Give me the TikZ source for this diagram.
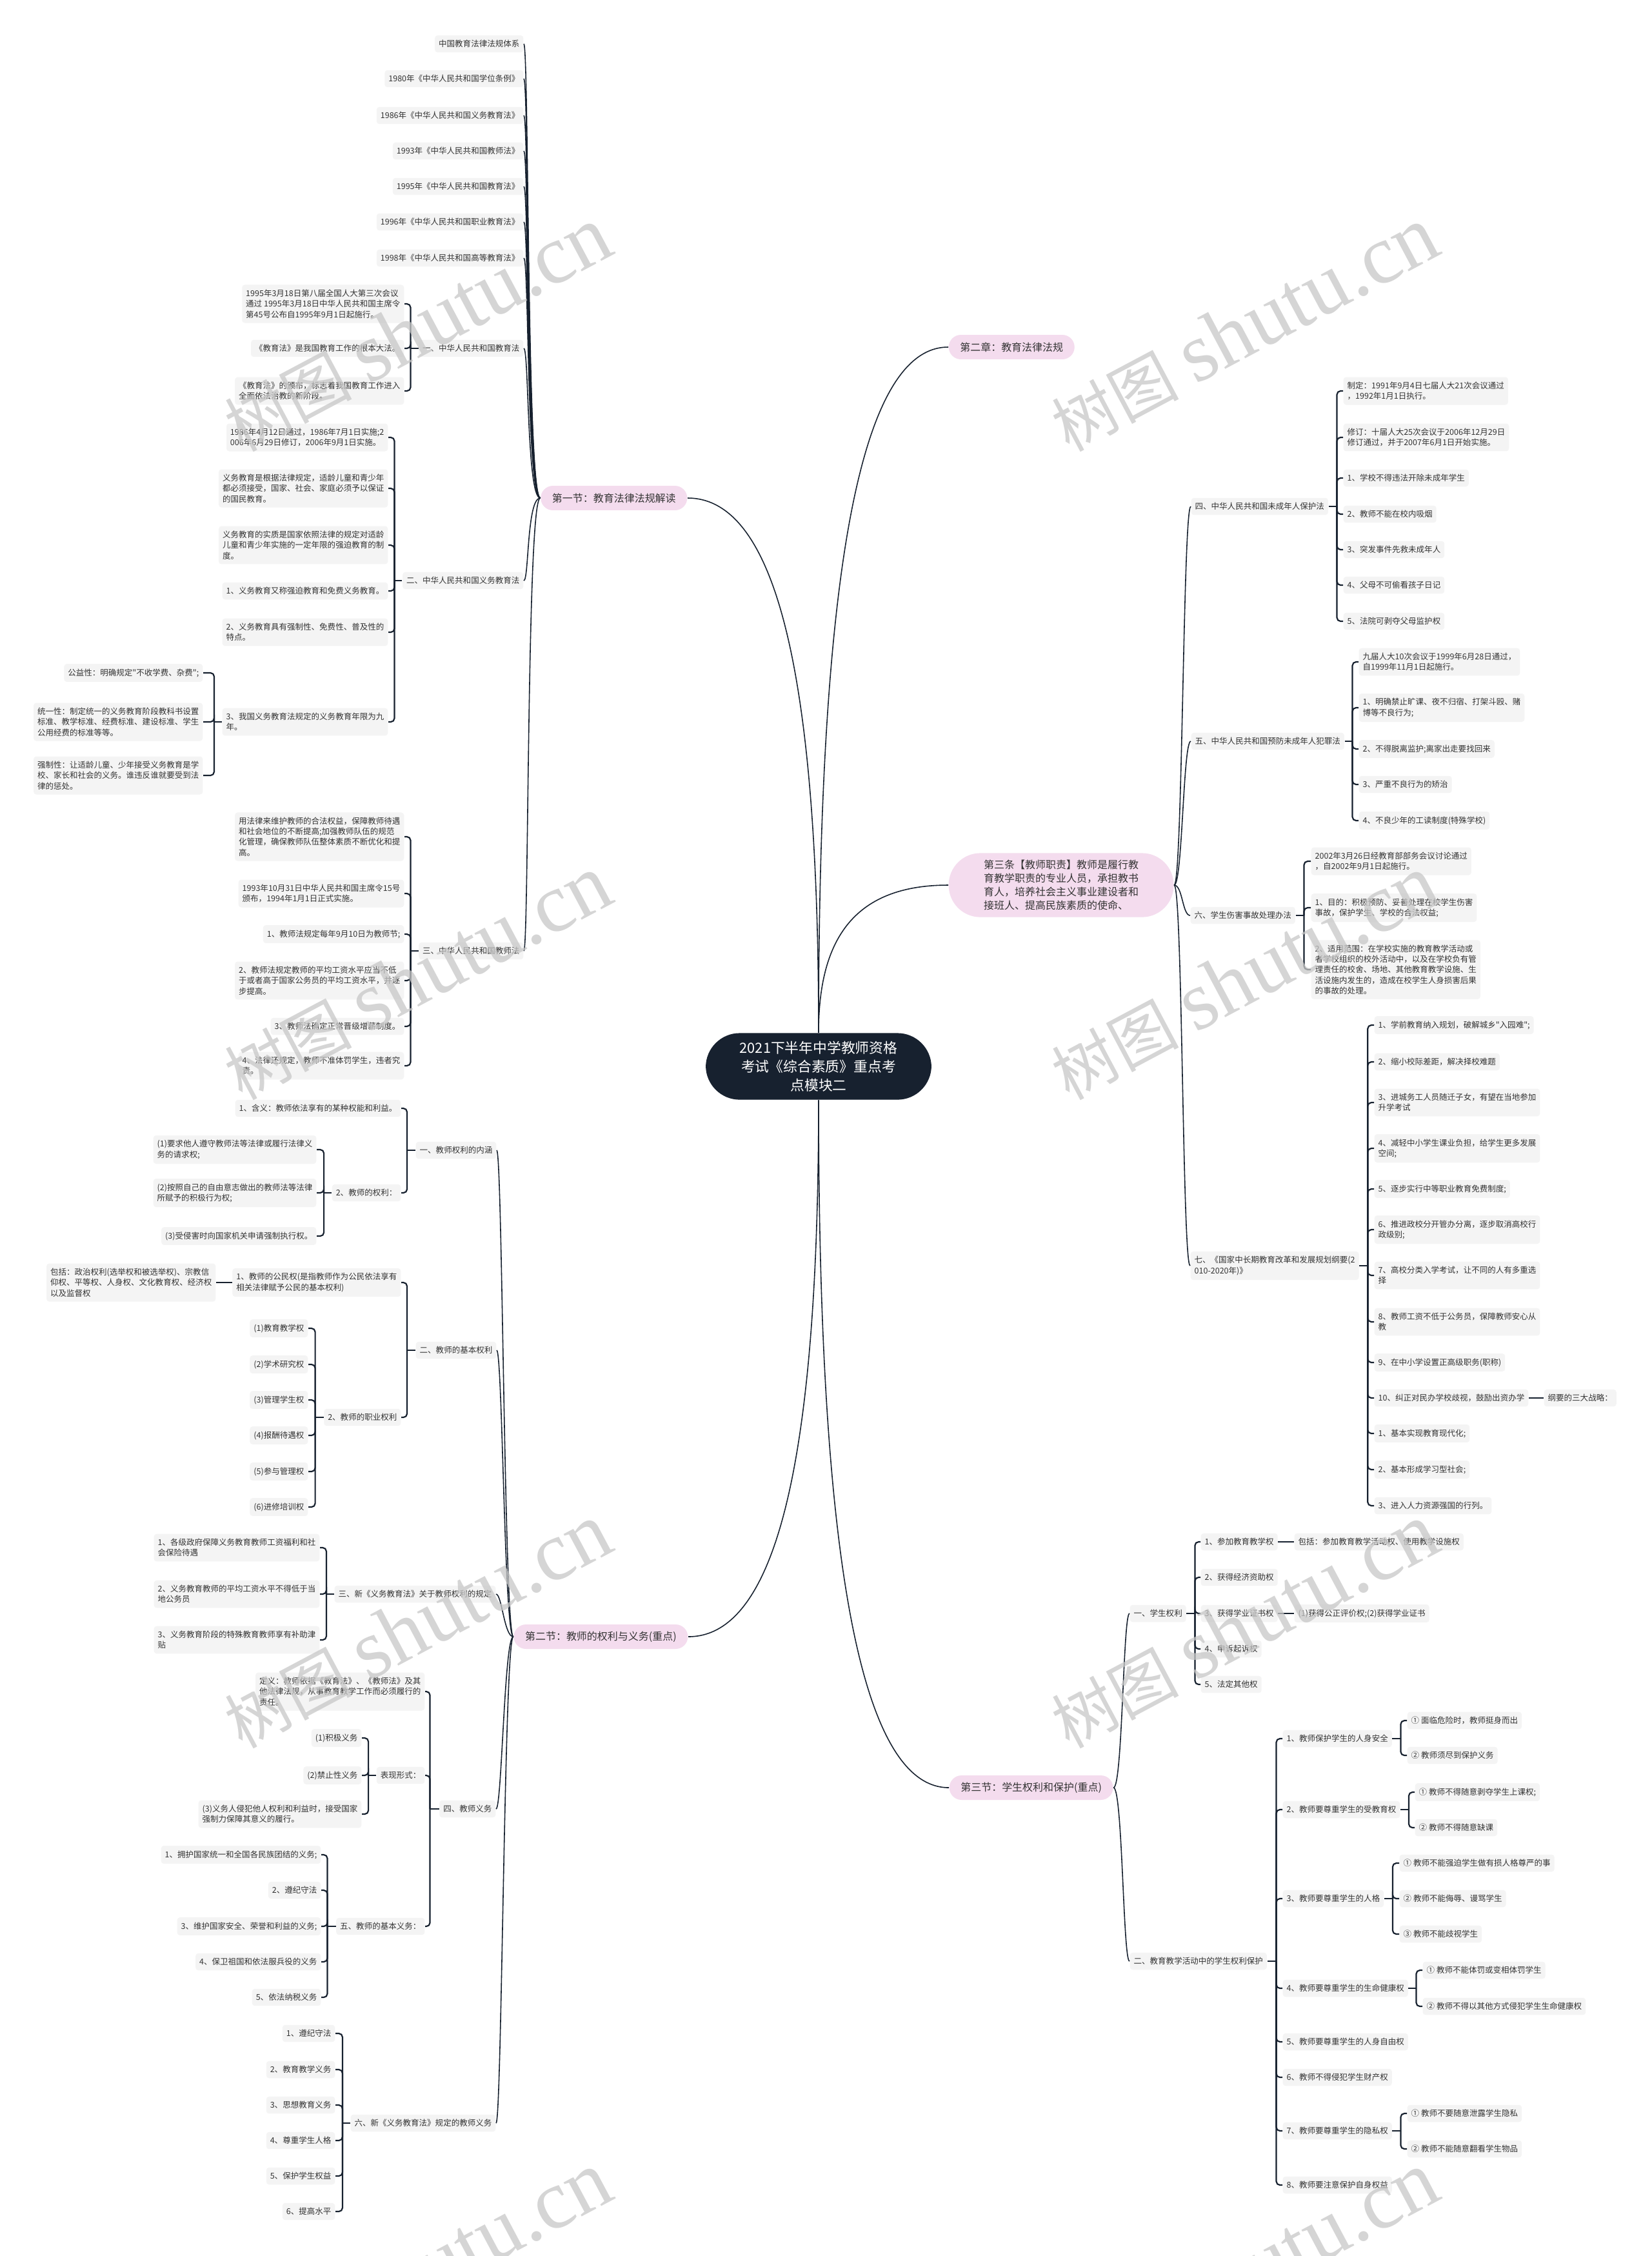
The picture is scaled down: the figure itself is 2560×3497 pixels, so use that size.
\documentclass[tikz,border=0pt]{standalone}
\usepackage{fontspec}
\newfontfamily\cjk{Noto Sans CJK SC}
\newfontfamily\wmlatin{Liberation Serif}

\definecolor{leafgray}{HTML}{F4F4F4}
\definecolor{inkgray}{HTML}{333333}
\definecolor{sectpink}{HTML}{F4DCEE}
\definecolor{navy}{HTML}{17212F}

\begin{document}
\begin{tikzpicture}[x=0.1mm, y=-0.1mm,
    leaf/.style={fill=leafgray, text=inkgray, rounded corners=1.2pt, inner xsep=1.7pt, inner ysep=2.1pt, align=left, font=\cjk\fontsize{3.56}{4.63}\selectfont},
    sect/.style={fill=sectpink, text=inkgray, rounded corners=5.4pt, inner xsep=5pt, inner ysep=0pt, minimum height=10.8pt, font=\cjk\fontsize{4.55}{6}\selectfont},
    duty/.style={fill=sectpink, text=inkgray, rounded corners=14pt, inner xsep=15.5pt, inner ysep=3pt, align=left, font=\cjk\fontsize{4.55}{6}\selectfont},
    topic/.style={fill=navy, text=white, rounded corners=15pt, inner xsep=15pt, inner ysep=3.6pt, align=center, font=\cjk\fontsize{6.2}{8.2}\selectfont},
    wire/.style={draw=navy, line width=0.45pt},
    elbow/.style={draw=navy, line width=0.62pt, rounded corners=1.6pt}]

        % Page
        \useasboundingbox (0,0) rectangle (2560,3497);
        \fill[white] (0,0) rectangle (2560,3497);

        % Draw centre topic
        \node[topic] (root) at (1269,1653) {2021下半年中学教师资格\\考试《综合素质》重点考\\点模块二};

        % Draw main branches
        \node[sect, anchor=east] (sec1) at (1066,772) {第一节：教育法律法规解读};
        \node[sect, anchor=west] (chap2) at (1470,538) {第二章：教育法律法规};
        \node[duty, anchor=west] (art3) at (1470,1372) {第三条【教师职责】教师是履行教\\育教学职责的专业人员，承担教书\\育人，培养社会主义事业建设者和\\接班人、提高民族素质的使命、};
        \node[sect, anchor=east] (sec2) at (1067,2537) {第二节：教师的权利与义务(重点)};
        \node[sect, anchor=west] (sec3) at (1471,2771) {第三节：学生权利和保护(重点)};

        \draw[wire] (root.north) .. controls +(0,-500) and +(150,0) .. (sec1.east);
        \draw[wire] (root.north) .. controls +(0,-640) and +(-150,0) .. (chap2.west);
        \draw[wire] (root.north) .. controls +(0,-140) and +(-150,0) .. (art3.west);
        \draw[wire] (root.south) .. controls +(0,500) and +(150,0) .. (sec2.east);
        \draw[wire] (root.south) .. controls +(0,640) and +(-150,0) .. (sec3.west);

        % Section one: laws
        \node[leaf, anchor=east] (sys) at (812,68) {中国教育法律法规体系};
        \node[leaf, anchor=east] (law80) at (812,122) {1980年《中华人民共和国学位条例》};
        \node[leaf, anchor=east] (law86) at (812,179) {1986年《中华人民共和国义务教育法》};
        \node[leaf, anchor=east] (law93) at (812,234) {1993年《中华人民共和国教师法》};
        \node[leaf, anchor=east] (law95) at (812,289) {1995年《中华人民共和国教育法》};
        \node[leaf, anchor=east] (law96) at (812,344) {1996年《中华人民共和国职业教育法》};
        \node[leaf, anchor=east] (law98) at (812,400) {1998年《中华人民共和国高等教育法》};
        \node[leaf, anchor=east] (edu) at (812,540) {一、中华人民共和国教育法};
        \node[leaf, anchor=east] (oblig) at (812,900) {二、中华人民共和国义务教育法};
        \node[leaf, anchor=east] (tlaw) at (812,1474) {三、中华人民共和国教师法};
        \foreach \c in {sys,law80,law86,law93,law95,law96,law98,edu,oblig,tlaw}
            \draw[wire] (sec1.west) .. controls +(-21,0) and +(8,0) .. (\c.east);

        % Education law
        \node[leaf, anchor=east] (edu1) at (627,471) {1995年3月18日第八届全国人大第三次会议\\通过 1995年3月18日中华人民共和国主席令\\第45号公布自1995年9月1日起施行。};
        \node[leaf, anchor=east] (edu2) at (627,540) {《教育法》是我国教育工作的根本大法。};
        \node[leaf, anchor=east] (edu3) at (627,606) {《教育法》的颁布，标志着我国教育工作进入\\全面依法治教的新阶段。};
        \draw[elbow] (edu.west) -- ++(-12,0) coordinate (jedu);
        \foreach \c in {edu1,edu2,edu3} \draw[elbow] (jedu) |- (\c.east);

        % Compulsory education law
        \node[leaf, anchor=east] (obl1) at (602,678) {1986年4月12日通过，1986年7月1日实施;2\\006年6月29日修订，2006年9月1日实施。};
        \node[leaf, anchor=east] (obl2) at (602,757) {义务教育是根据法律规定，适龄儿童和青少年\\都必须接受，国家、社会、家庭必须予以保证\\的国民教育。};
        \node[leaf, anchor=east] (obl3) at (602,845) {义务教育的实质是国家依照法律的规定对适龄\\儿童和青少年实施的一定年限的强迫教育的制\\度。};
        \node[leaf, anchor=east] (obl4) at (602,916) {1、义务教育又称强迫教育和免费义务教育。};
        \node[leaf, anchor=east] (obl5) at (602,980) {2、义务教育具有强制性、免费性、普及性的\\特点。};
        \node[leaf, anchor=east] (obl6) at (602,1119) {3、我国义务教育法规定的义务教育年限为九\\年。};
        \draw[elbow] (oblig.west) -- ++(-12,0) coordinate (jobl);
        \foreach \c in {obl1,obl2,obl3,obl4,obl5,obl6} \draw[elbow] (jobl) |- (\c.east);

        \node[leaf, anchor=east] (obl6a) at (315,1043) {公益性：明确规定"不收学费、杂费";};
        \node[leaf, anchor=east] (obl6b) at (315,1119) {统一性：制定统一的义务教育阶段教科书设置\\标准、教学标准、经费标准、建设标准、学生\\公用经费的标准等等。};
        \node[leaf, anchor=east] (obl6c) at (315,1202) {强制性：让适龄儿童、少年接受义务教育是学\\校、家长和社会的义务。谁违反谁就要受到法\\律的惩处。};
        \draw[elbow] (obl6.west) -- ++(-12,0) coordinate (jnine);
        \foreach \c in {obl6a,obl6b,obl6c} \draw[elbow] (jnine) |- (\c.east);

        % Teachers law
        \node[leaf, anchor=east] (tl1) at (627,1297) {用法律来维护教师的合法权益，保障教师待遇\\和社会地位的不断提高;加强教师队伍的规范\\化管理，确保教师队伍整体素质不断优化和提\\高。};
        \node[leaf, anchor=east] (tl2) at (627,1385) {1993年10月31日中华人民共和国主席令15号\\颁布，1994年1月1日正式实施。};
        \node[leaf, anchor=east] (tl3) at (627,1448) {1、教师法规定每年9月10日为教师节;};
        \node[leaf, anchor=east] (tl4) at (627,1520) {2、教师法规定教师的平均工资水平应当不低\\于或者高于国家公务员的平均工资水平，并逐\\步提高。};
        \node[leaf, anchor=east] (tl5) at (627,1591) {3、教师法确定正常晋级增薪制度。};
        \node[leaf, anchor=east] (tl6) at (627,1652) {4、法律还规定，教师不准体罚学生，违者究\\责。};
        \draw[elbow] (tlaw.west) -- ++(-12,0) coordinate (jtl);
        \foreach \c in {tl1,tl2,tl3,tl4,tl5,tl6} \draw[elbow] (jtl) |- (\c.east);

        % Section two: rights and duties of teachers
        \node[leaf, anchor=east] (rt1) at (770,1783) {一、教师权利的内涵};
        \node[leaf, anchor=east] (rt2) at (770,2093) {二、教师的基本权利};
        \node[leaf, anchor=east] (rt3) at (769,2471) {三、新《义务教育法》关于教师权利的规定};
        \node[leaf, anchor=east] (dt4) at (769,2804) {四、教师义务};
        \node[leaf, anchor=east] (dt6) at (769,3291) {六、新《义务教育法》规定的教师义务};
        \foreach \c in {rt1,rt2,rt3,dt4,dt6}
            \draw[wire] (sec2.west) .. controls +(-14,0) and +(9,0) .. (\c.east);

        % Meaning of rights
        \node[leaf, anchor=east] (rt1a) at (622,1718) {1、含义：教师依法享有的某种权能和利益。};
        \node[leaf, anchor=east] (rt1b) at (622,1849) {2、教师的权利：};
        \draw[elbow] (rt1.west) -- ++(-13,0) coordinate (jrt1);
        \foreach \c in {rt1a,rt1b} \draw[elbow] (jrt1) |- (\c.east);
        \node[leaf, anchor=east] (rt1b1) at (491,1782) {(1)要求他人遵守教师法等法律或履行法律义\\务的请求权;};
        \node[leaf, anchor=east] (rt1b2) at (491,1849) {(2)按照自己的自由意志做出的教师法等法律\\所赋予的积极行为权;};
        \node[leaf, anchor=east] (rt1b3) at (491,1916) {(3)受侵害时向国家机关申请强制执行权。};
        \draw[elbow] (rt1b.west) -- ++(-12,0) coordinate (jrt1b);
        \foreach \c in {rt1b1,rt1b2,rt1b3} \draw[elbow] (jrt1b) |- (\c.east);

        % Basic rights
        \node[leaf, anchor=east] (rt2a) at (622,1988) {1、教师的公民权(是指教师作为公民依法享有\\相关法律赋予公民的基本权利)};
        \node[leaf, anchor=east] (rt2b) at (622,2197) {2、教师的职业权利};
        \draw[elbow] (rt2.west) -- ++(-13,0) coordinate (jrt2);
        \foreach \c in {rt2a,rt2b} \draw[elbow] (jrt2) |- (\c.east);
        \node[leaf, anchor=east] (civil) at (335,1988) {包括：政治权利(选举权和被选举权)、宗教信\\仰权、平等权、人身权、文化教育权、经济权\\以及监督权};
        \draw[elbow] (rt2a.west) -- (civil.east);
        \node[leaf, anchor=east] (job1) at (478,2059) {(1)教育教学权};
        \node[leaf, anchor=east] (job2) at (478,2115) {(2)学术研究权};
        \node[leaf, anchor=east] (job3) at (478,2170) {(3)管理学生权};
        \node[leaf, anchor=east] (job4) at (478,2225) {(4)报酬待遇权};
        \node[leaf, anchor=east] (job5) at (478,2281) {(5)参与管理权};
        \node[leaf, anchor=east] (job6) at (478,2336) {(6)进修培训权};
        \draw[elbow] (rt2b.west) -- ++(-13,0) coordinate (jjob);
        \foreach \c in {job1,job2,job3,job4,job5,job6} \draw[elbow] (jjob) |- (\c.east);

        % New compulsory education law, rights
        \node[leaf, anchor=east] (rt3a) at (496,2399) {1、各级政府保障义务教育教师工资福利和社\\会保险待遇};
        \node[leaf, anchor=east] (rt3b) at (496,2471) {2、义务教育教师的平均工资水平不得低于当\\地公务员};
        \node[leaf, anchor=east] (rt3c) at (496,2542) {3、义务教育阶段的特殊教育教师享有补助津\\贴};
        \draw[elbow] (rt3.west) -- ++(-12,0) coordinate (jrt3);
        \foreach \c in {rt3a,rt3b,rt3c} \draw[elbow] (jrt3) |- (\c.east);

        % Duties
        \node[leaf, anchor=east] (dt4a) at (659,2622) {定义：教师依据《教育法》、《教师法》及其\\他法律法规，从事教育教学工作而必须履行的\\责任。};
        \node[leaf, anchor=east] (dt4b) at (659,2752) {表现形式：};
        \node[leaf, anchor=east] (dt5) at (659,2986) {五、教师的基本义务：};
        \draw[elbow] (dt4.west) -- ++(-14,0) coordinate (jdt4);
        \foreach \c in {dt4a,dt4b,dt5} \draw[elbow] (jdt4) |- (\c.east);
        \node[leaf, anchor=east] (form1) at (561,2694) {(1)积极义务};
        \node[leaf, anchor=east] (form2) at (561,2752) {(2)禁止性义务};
        \node[leaf, anchor=east] (form3) at (561,2812) {(3)义务人侵犯他人权利和利益时，接受国家\\强制力保障其意义的履行。};
        \draw[elbow] (dt4b.west) -- ++(-12,0) coordinate (jform);
        \foreach \c in {form1,form2,form3} \draw[elbow] (jform) |- (\c.east);
        \node[leaf, anchor=east] (bd1) at (498,2875) {1、拥护国家统一和全国各民族团结的义务;};
        \node[leaf, anchor=east] (bd2) at (498,2930) {2、遵纪守法};
        \node[leaf, anchor=east] (bd3) at (498,2986) {3、维护国家安全、荣誉和利益的义务;};
        \node[leaf, anchor=east] (bd4) at (498,3041) {4、保卫祖国和依法服兵役的义务};
        \node[leaf, anchor=east] (bd5) at (498,3096) {5、依法纳税义务};
        \draw[elbow] (dt5.west) -- ++(-13,0) coordinate (jbd);
        \foreach \c in {bd1,bd2,bd3,bd4,bd5} \draw[elbow] (jbd) |- (\c.east);

        % New compulsory education law, duties
        \node[leaf, anchor=east] (nd1) at (520,3152) {1、遵纪守法};
        \node[leaf, anchor=east] (nd2) at (520,3208) {2、教育教学义务};
        \node[leaf, anchor=east] (nd3) at (520,3263) {3、思想教育义务};
        \node[leaf, anchor=east] (nd4) at (520,3318) {4、尊重学生人格};
        \node[leaf, anchor=east] (nd5) at (520,3373) {5、保护学生权益};
        \node[leaf, anchor=east] (nd6) at (520,3428) {6、提高水平};
        \draw[elbow] (dt6.west) -- ++(-12,0) coordinate (jnd);
        \foreach \c in {nd1,nd2,nd3,nd4,nd5,nd6} \draw[elbow] (jnd) |- (\c.east);

        % Article three
        \node[leaf, anchor=west] (minor) at (1846,785) {四、中华人民共和国未成年人保护法};
        \node[leaf, anchor=west] (crime) at (1846,1149) {五、中华人民共和国预防未成年人犯罪法};
        \node[leaf, anchor=west] (harm) at (1845,1419) {六、学生伤害事故处理办法};
        \node[leaf, anchor=west] (plan) at (1845,1962) {七、《国家中长期教育改革和发展规划纲要(2\\010-2020年)》};
        \foreach \c in {minor,crime,harm,plan}
            \draw[wire] (art3.east) .. controls +(13,0) and +(-12,0) .. (\c.west);

        % Minors protection law
        \node[leaf, anchor=west] (mn1) at (2082,606) {制定：1991年9月4日七届人大21次会议通过\\，1992年1月1日执行。};
        \node[leaf, anchor=west] (mn2) at (2082,678) {修订：十届人大25次会议于2006年12月29日\\修订通过，并于2007年6月1日开始实施。};
        \node[leaf, anchor=west] (mn3) at (2082,741) {1、学校不得违法开除未成年学生};
        \node[leaf, anchor=west] (mn4) at (2082,797) {2、教师不能在校内吸烟};
        \node[leaf, anchor=west] (mn5) at (2082,852) {3、突发事件先救未成年人};
        \node[leaf, anchor=west] (mn6) at (2082,907) {4、父母不可偷看孩子日记};
        \node[leaf, anchor=west] (mn7) at (2082,963) {5、法院可剥夺父母监护权};
        \draw[elbow] (minor.east) -- ++(13,0) coordinate (jmn);
        \foreach \c in {mn1,mn2,mn3,mn4,mn5,mn6,mn7} \draw[elbow] (jmn) |- (\c.west);

        % Crime prevention law
        \node[leaf, anchor=west] (cr1) at (2106,1026) {九届人大10次会议于1999年6月28日通过，\\自1999年11月1日起施行。};
        \node[leaf, anchor=west] (cr2) at (2106,1097) {1、明确禁止旷课、夜不归宿、打架斗殴、赌\\博等不良行为;};
        \node[leaf, anchor=west] (cr3) at (2106,1161) {2、不得脱离监护;离家出走要找回来};
        \node[leaf, anchor=west] (cr4) at (2106,1216) {3、严重不良行为的矫治};
        \node[leaf, anchor=west] (cr5) at (2106,1272) {4、不良少年的工读制度(特殊学校)};
        \draw[elbow] (crime.east) -- ++(12,0) coordinate (jcr);
        \foreach \c in {cr1,cr2,cr3,cr4,cr5} \draw[elbow] (jcr) |- (\c.west);

        % Student injury
        \node[leaf, anchor=west] (hm1) at (2032,1335) {2002年3月26日经教育部部务会议讨论通过\\，自2002年9月1日起施行。};
        \node[leaf, anchor=west] (hm2) at (2032,1407) {1、目的：积极预防、妥善处理在校学生伤害\\事故，保护学生、学校的合法权益;};
        \node[leaf, anchor=west] (hm3) at (2032,1503) {2、适用范围：在学校实施的教育教学活动或\\者学校组织的校外活动中，以及在学校负有管\\理责任的校舍、场地、其他教育教学设施、生\\活设施内发生的，造成在校学生人身损害后果\\的事故的处理。};
        \draw[elbow] (harm.east) -- ++(13,0) coordinate (jhm);
        \foreach \c in {hm1,hm2,hm3} \draw[elbow] (jhm) |- (\c.west);

        % Reform plan
        \node[leaf, anchor=west] (pl1) at (2130,1589) {1、学前教育纳入规划，破解城乡"入园难";};
        \node[leaf, anchor=west] (pl2) at (2130,1646) {2、缩小校际差距，解决择校难题};
        \node[leaf, anchor=west] (pl3) at (2130,1709) {3、进城务工人员随迁子女，有望在当地参加\\升学考试};
        \node[leaf, anchor=west] (pl4) at (2130,1780) {4、减轻中小学生课业负担，给学生更多发展\\空间;};
        \node[leaf, anchor=west] (pl5) at (2130,1843) {5、逐步实行中等职业教育免费制度;};
        \node[leaf, anchor=west] (pl6) at (2130,1906) {6、推进政校分开管办分离，逐步取消高校行\\政级别;};
        \node[leaf, anchor=west] (pl7) at (2130,1977) {7、高校分类入学考试，让不同的人有多重选\\择};
        \node[leaf, anchor=west] (pl8) at (2130,2049) {8、教师工资不低于公务员，保障教师安心从\\教};
        \node[leaf, anchor=west] (pl9) at (2130,2112) {9、在中小学设置正高级职务(职称)};
        \node[leaf, anchor=west] (pl10) at (2130,2167) {10、纠正对民办学校歧视，鼓励出资办学};
        \node[leaf, anchor=west] (pl11) at (2130,2222) {1、基本实现教育现代化;};
        \node[leaf, anchor=west] (pl12) at (2130,2278) {2、基本形成学习型社会;};
        \node[leaf, anchor=west] (pl13) at (2130,2334) {3、进入人力资源强国的行列。};
        \draw[elbow] (plan.east) -- ++(13,0) coordinate (jpl);
        \foreach \c in {pl1,pl2,pl3,pl4,pl5,pl6,pl7,pl8,pl9,pl10,pl11,pl12,pl13} \draw[elbow] (jpl) |- (\c.west);
        \node[leaf, anchor=west] (goal) at (2393,2167) {纲要的三大战略：};
        \draw[elbow] (pl10.east) -- (goal.west);

        % Section three: students
        \node[leaf, anchor=west] (srt) at (1751,2501) {一、学生权利};
        \node[leaf, anchor=west] (sprot) at (1751,3040) {二、教育教学活动中的学生权利保护};
        \foreach \c in {srt,sprot}
            \draw[wire] (sec3.east) .. controls +(14,0) and +(-10,0) .. (\c.west);

        % Student rights
        \node[leaf, anchor=west] (sr1) at (1861,2390) {1、参加教育教学权};
        \node[leaf, anchor=west] (sr2) at (1861,2445) {2、获得经济资助权};
        \node[leaf, anchor=west] (sr3) at (1861,2501) {3、获得学业证书权};
        \node[leaf, anchor=west] (sr4) at (1861,2556) {4、申诉起诉权};
        \node[leaf, anchor=west] (sr5) at (1861,2611) {5、法定其他权};
        \draw[elbow] (srt.east) -- ++(13,0) coordinate (jsr);
        \foreach \c in {sr1,sr2,sr3,sr4,sr5} \draw[elbow] (jsr) |- (\c.west);
        \node[leaf, anchor=west] (sr1x) at (2006,2390) {包括：参加教育教学活动权、使用教学设施权};
        \node[leaf, anchor=west] (sr3x) at (2006,2501) {(1)获得公正评价权;(2)获得学业证书};
        \draw[elbow] (sr1.east) -- (sr1x.west);
        \draw[elbow] (sr3.east) -- (sr3x.west);

        % Protection in teaching
        \node[leaf, anchor=west] (sp1) at (1988,2695) {1、教师保护学生的人身安全};
        \node[leaf, anchor=west] (sp2) at (1988,2805) {2、教师要尊重学生的受教育权};
        \node[leaf, anchor=west] (sp3) at (1988,2943) {3、教师要尊重学生的人格};
        \node[leaf, anchor=west] (sp4) at (1988,3082) {4、教师要尊重学生的生命健康权};
        \node[leaf, anchor=west] (sp5) at (1988,3165) {5、教师要尊重学生的人身自由权};
        \node[leaf, anchor=west] (sp6) at (1988,3220) {6、教师不得侵犯学生财产权};
        \node[leaf, anchor=west] (sp7) at (1988,3303) {7、教师要尊重学生的隐私权};
        \node[leaf, anchor=west] (sp8) at (1988,3387) {8、教师要注意保护自身权益};
        \draw[elbow] (sprot.east) -- ++(14,0) coordinate (jsp);
        \foreach \c in {sp1,sp2,sp3,sp4,sp5,sp6,sp7,sp8} \draw[elbow] (jsp) |- (\c.west);

        \node[leaf, anchor=west] (sp1a) at (2181,2667) {① 面临危险时，教师挺身而出};
        \node[leaf, anchor=west] (sp1b) at (2181,2721) {② 教师须尽到保护义务};
        \draw[elbow] (sp1.east) -- ++(13,0) coordinate (jsp1);
        \foreach \c in {sp1a,sp1b} \draw[elbow] (jsp1) |- (\c.west);

        \node[leaf, anchor=west] (sp2a) at (2193,2778) {① 教师不得随意剥夺学生上课权;};
        \node[leaf, anchor=west] (sp2b) at (2193,2833) {② 教师不得随意缺课};
        \draw[elbow] (sp2.east) -- ++(13,0) coordinate (jsp2);
        \foreach \c in {sp2a,sp2b} \draw[elbow] (jsp2) |- (\c.west);

        \node[leaf, anchor=west] (sp3a) at (2169,2888) {① 教师不能强迫学生做有损人格尊严的事};
        \node[leaf, anchor=west] (sp3b) at (2169,2943) {② 教师不能侮辱、谩骂学生};
        \node[leaf, anchor=west] (sp3c) at (2169,2998) {③ 教师不能歧视学生};
        \draw[elbow] (sp3.east) -- ++(13,0) coordinate (jsp3);
        \foreach \c in {sp3a,sp3b,sp3c} \draw[elbow] (jsp3) |- (\c.west);

        \node[leaf, anchor=west] (sp4a) at (2205,3054) {① 教师不能体罚或变相体罚学生};
        \node[leaf, anchor=west] (sp4b) at (2205,3110) {② 教师不得以其他方式侵犯学生生命健康权};
        \draw[elbow] (sp4.east) -- ++(12,0) coordinate (jsp4);
        \foreach \c in {sp4a,sp4b} \draw[elbow] (jsp4) |- (\c.west);

        \node[leaf, anchor=west] (sp7a) at (2181,3276) {① 教师不要随意泄露学生隐私};
        \node[leaf, anchor=west] (sp7b) at (2181,3331) {② 教师不能随意翻看学生物品};
        \draw[elbow] (sp7.east) -- ++(13,0) coordinate (jsp7);
        \foreach \c in {sp7a,sp7b} \draw[elbow] (jsp7) |- (\c.west);

        % Watermarks
        \foreach \wx in {647,1929}
            \foreach \wy in {510,1515,2520,3525}
                \node[rotate=28, text=black!22, text opacity=0.75, inner sep=0pt] (wm-\wx-\wy) at (\wx,\wy)
                    {{\cjk\fontsize{28}{28}\selectfont 树图}\hspace{2.5mm}{\wmlatin\fontsize{37}{37}\selectfont shutu.cn}};
    \end{tikzpicture}
\end{document}
